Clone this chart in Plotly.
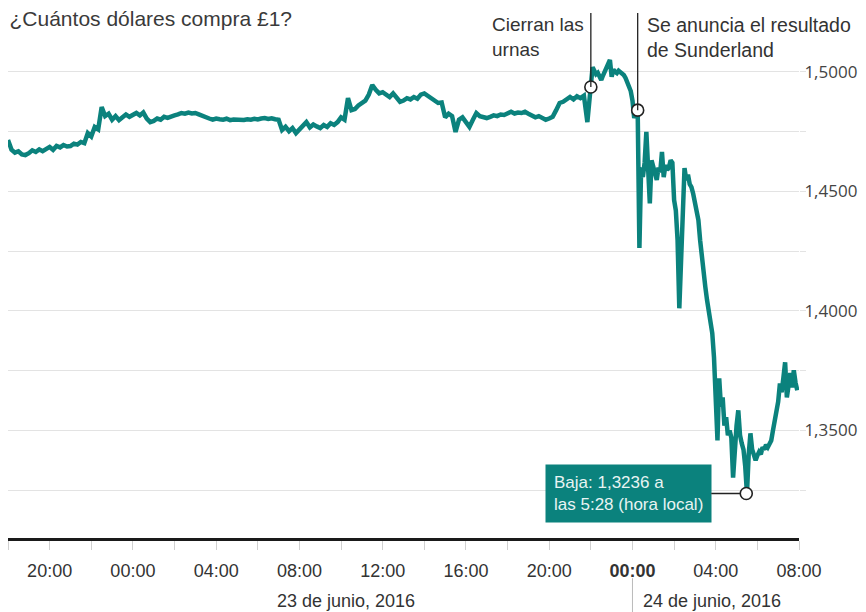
import pandas as pd
import plotly.graph_objects as go

# ---------------- data ----------------
# 10-minute readings, 22 jun 18:00 -> 23 jun 21:50
rates_a = [
    # 22 jun 18h .. 23h
    1.4715, 1.4675, 1.4662, 1.4668, 1.4655, 1.4652,
    1.4660, 1.4672, 1.4665, 1.4676, 1.4668, 1.4680,
    1.4686, 1.4674, 1.4690, 1.4684, 1.4694, 1.4688,
    1.4690, 1.4700, 1.4696, 1.4707, 1.4702, 1.4744,
    1.4730, 1.4770, 1.4760, 1.4853, 1.4815, 1.4825,
    1.4800, 1.4815, 1.4798, 1.4810, 1.4822, 1.4812,
    # 23 jun 00h .. 21h
    1.4820, 1.4828, 1.4818, 1.4830, 1.4805, 1.4790,
    1.4795, 1.4805, 1.4800, 1.4812, 1.4808, 1.4815,
    1.4818, 1.4822, 1.4828, 1.4825, 1.4830, 1.4826,
    1.4828, 1.4822, 1.4815, 1.4810, 1.4805, 1.4800,
    1.4805, 1.4802, 1.4800, 1.4804, 1.4798, 1.4801,
    1.4800, 1.4803, 1.4799, 1.4802, 1.4800, 1.4804,
    1.4801, 1.4805, 1.4807, 1.4803, 1.4806, 1.4802,
    1.4800, 1.4757, 1.4770, 1.4752, 1.4765, 1.4744,
    1.4760, 1.4772, 1.4790, 1.4768, 1.4780, 1.4772,
    1.4765, 1.4778, 1.4770, 1.4785, 1.4778, 1.4790,
    1.4810, 1.4800, 1.4890, 1.4840, 1.4845, 1.4860,
    1.4870, 1.4880, 1.4905, 1.4945, 1.4925, 1.4910,
    1.4915, 1.4905, 1.4895, 1.4910, 1.4890, 1.4875,
    1.4880, 1.4890, 1.4885, 1.4895, 1.4888, 1.4905,
    1.4910, 1.4900, 1.4895, 1.4880, 1.4870, 1.4872,
    1.4810, 1.4825, 1.4815, 1.4749, 1.4800, 1.4810,
    1.4790, 1.4770, 1.4800, 1.4828, 1.4815, 1.4810,
    1.4807, 1.4812, 1.4818, 1.4815, 1.4822, 1.4820,
    1.4825, 1.4833, 1.4826, 1.4830, 1.4828, 1.4833,
    1.4825, 1.4818, 1.4810, 1.4815, 1.4805, 1.4800,
    1.4805, 1.4812, 1.4840, 1.4870, 1.4875, 1.4885,
    1.4895, 1.4885, 1.4898, 1.4890, 1.4900, 1.4790,
]
times_a = pd.date_range("2016-06-22 18:00", "2016-06-23 21:50", freq="10min")

# 5-minute readings, 23 jun 22:00 -> 24 jun 07:55
rates_b = [
    1.4937, 1.5020, 1.5005, 1.4990, 1.4996, 1.4980, 1.4966, 1.4985, 1.5000, 1.5020, 1.5035, 1.5050,
    1.4980, 1.5010, 1.5000, 1.4995, 1.5005, 1.5000, 1.4990, 1.4987, 1.4975, 1.4960, 1.4937, 1.4920,
    1.4880, 1.4807, 1.4830, 1.4840, 1.4263, 1.4600, 1.4560, 1.4620, 1.4749, 1.4600, 1.4450, 1.4630,
    1.4600, 1.4570, 1.4548, 1.4600, 1.4580, 1.4665, 1.4560, 1.4610, 1.4590, 1.4600, 1.4630, 1.4620,
    1.4464, 1.4420, 1.4296, 1.4011, 1.4254, 1.4450, 1.4598, 1.4548, 1.4570, 1.4530, 1.4518, 1.4490,
    1.4460, 1.4422, 1.4380, 1.4296, 1.4220, 1.4140, 1.4100, 1.4045, 1.4000, 1.3974, 1.3907, 1.3806,
    1.3638, 1.3458, 1.3718, 1.3600, 1.3638, 1.3520, 1.3555, 1.3480, 1.3500, 1.3470, 1.3303, 1.3460,
    1.3520, 1.3584, 1.3480, 1.3446, 1.3420, 1.3350, 1.3236, 1.3400, 1.3488, 1.3420, 1.3400, 1.3375,
    1.3395, 1.3410, 1.3400, 1.3430, 1.3420, 1.3440, 1.3430, 1.3450, 1.3458, 1.3500, 1.3540, 1.3584,
    1.3620, 1.3697, 1.3660, 1.3720, 1.3785, 1.3638, 1.3700, 1.3740, 1.3680, 1.3752, 1.3700, 1.3668,
]
times_b = pd.date_range("2016-06-23 22:00", "2016-06-24 07:55", freq="5min")

times = list(times_a) + list(times_b)
rates = rates_a + rates_b

event_times = ["2016-06-23 22:00", "2016-06-24 00:15", "2016-06-24 05:28"]
event_rates = [1.4937, 1.4840, 1.3236]

y_tickvals = [1.325, 1.35, 1.375, 1.40, 1.425, 1.45, 1.475, 1.50]
y_ticktext = ["", "1,3500", "", "1,4000", "", "1,4500", "", "1,5000"]

x_tickvals = pd.date_range("2016-06-22 18:00", "2016-06-24 08:00", freq="2h")
x_ticktext = ["", "20:00", "", "00:00", "", "04:00", "", "08:00", "", "12:00", "",
              "16:00", "", "20:00", "", "<b>00:00</b>", "", "04:00", "", "08:00"]

Y_RANGE = [1.305, 1.51]
X_RANGE = ["2016-06-22 18:00", "2016-06-24 08:00"]

TEAL = "#0b827d"
FONT = "Liberation Sans, Arial, sans-serif"


def ypaper(v):
    return (v - Y_RANGE[0]) / (Y_RANGE[1] - Y_RANGE[0])


fig = go.Figure()
fig.add_trace(go.Scatter(x=times, y=rates, mode="lines",
                         line=dict(color=TEAL, width=4.5), hoverinfo="skip"))

TOP = 1.0714  # top of callout lines (paper)
shapes = [
    dict(type="line", xref="x", yref="paper", x0=event_times[0], x1=event_times[0],
         y0=ypaper(event_rates[0]), y1=TOP, line=dict(color="#222", width=1.3)),
    dict(type="line", xref="x", yref="paper", x0=event_times[1], x1=event_times[1],
         y0=ypaper(event_rates[1]), y1=TOP, line=dict(color="#222", width=1.3)),
    dict(type="line", xref="x", yref="paper", x0="2016-06-24 00:00", x1="2016-06-24 00:00",
         y0=-0.082, y1=-0.16, line=dict(color="#bbbbbb", width=1)),
]

fig.add_trace(go.Scatter(x=event_times, y=event_rates, mode="markers",
                         marker=dict(size=12, color="white", line=dict(color="#222", width=1.6)),
                         cliponaxis=False, hoverinfo="skip"))

annotations = [
    dict(xref="x", yref="paper", x=event_times[0], y=TOP + 0.003, xanchor="right", yanchor="top",
         xshift=-5, text="Cierran las<br>urnas", align="left", showarrow=False,
         font=dict(family=FONT, size=19, color="#333")),
    dict(xref="x", yref="paper", x=event_times[1], y=TOP + 0.003, xanchor="left", yanchor="top",
         xshift=7, text="Se anuncia el resultado<br>de Sunderland", align="left", showarrow=False,
         font=dict(family=FONT, size=19.5, color="#333")),
    dict(xref="x", yref="y", x=event_times[2], y=event_rates[2],
         text="Baja: 1,3236 a<br>las 5:28 (hora local)", align="left",
         showarrow=True, arrowhead=0, arrowwidth=1.5, arrowcolor="#222",
         ax=-118, ay=0, standoff=6, bgcolor=TEAL, borderpad=8,
         font=dict(family=FONT, size=17, color="#e8f4f3")),
    dict(xref="x", yref="paper", x="2016-06-23 10:15", y=-0.128, xanchor="center", yanchor="middle",
         text="23 de junio, 2016", showarrow=False, font=dict(family=FONT, size=18, color="#333")),
    dict(xref="x", yref="paper", x="2016-06-24 00:00", y=-0.128, xanchor="left", yanchor="middle",
         xshift=9, text="24 de junio, 2016", showarrow=False,
         font=dict(family=FONT, size=18, color="#333")),
]

fig.update_layout(
    width=866, height=612,
    margin=dict(l=8, r=67, t=48, b=74, autoexpand=False),
    paper_bgcolor="white", plot_bgcolor="white",
    showlegend=False,
    hovermode=False,
    title=dict(text="¿Cuántos dólares compra £1?", x=0.011, xanchor="left",
               y=1 - 19 / 612, yanchor="middle", yref="container",
               font=dict(family=FONT, size=21, color="#3a3a3a")),
    shapes=shapes,
    annotations=annotations,
    xaxis=dict(type="date", range=X_RANGE, tickvals=x_tickvals, ticktext=x_ticktext,
               automargin=False,
               showgrid=False, showline=True, linecolor="#1a1a1a", linewidth=2.5,
               ticks="outside", ticklen=9, tickcolor="#d0d0d0", tickwidth=1,
               ticklabelstandoff=6,
               tickfont=dict(family=FONT, size=18, color="#333"), zeroline=False),
    yaxis=dict(range=Y_RANGE, side="right", tickvals=y_tickvals, ticktext=y_ticktext,
               automargin=False,
               showgrid=True, gridcolor="#e3e3e3", gridwidth=1,
               ticks="outside", ticklen=6, tickcolor="#e3e3e3",
               ticklabelstandoff=-5,
               showline=False, zeroline=False,
               tickfont=dict(family="Open Sans, sans-serif", size=17, color="#444")),
)

fig.write_html("out.html", config={"displayModeBar": False},
               post_script="document.body.style.margin='0';document.body.style.padding='0';")
